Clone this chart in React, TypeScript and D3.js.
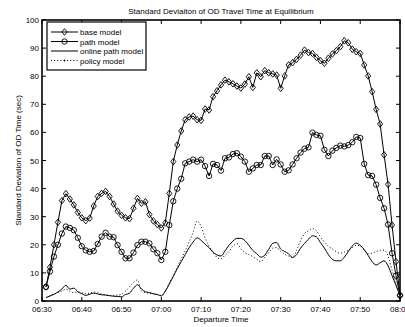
import React from "react";
import * as d3 from "d3";

// minutes after 06:30, one sample per minute
const minutes = d3.range(1, 91);

const tickLabels = ["06:30", "06:40", "06:50", "07:00", "07:10", "07:20", "07:30", "07:40", "07:50", "08:00"];
const yTicks = [0, 10, 20, 30, 40, 50, 60, 70, 80, 90, 100];

const baseModel = [
  5, 12, 20, 28, 35.7, 38.2, 36.3, 34.2, 31.5, 29.6,
  28.6, 29.5, 33.8, 37.2, 38.3, 39, 37.2, 34.5, 32, 30.5,
  29.6, 29.3, 33, 36.5, 34.8, 35.3, 30.8, 28.5, 27.2, 26,
  27.8, 38.3, 49.6, 55.5, 60.5, 64.5, 65.5, 65.8, 64.5, 64.3,
  68.3, 68, 72.7, 74.8, 76.9, 78.6, 78, 77.3, 76.5, 75.8,
  77.2, 79.8, 76, 81.2, 79.8, 82, 81.2, 80.8, 80.4, 75.7,
  80.1, 84, 84.8, 86, 87.5, 89.3, 88.4, 88.1, 86.7, 85.5,
  84.6, 86.4, 87.9, 89.1, 90.5, 92.6, 91.9, 89.6, 88.7, 88.1,
  84, 80.1, 74.5, 68.2, 63, 52, 41.5, 27, 14, 2,
];

const pathModel = [
  5, 10.5, 15.8, 20, 24, 26.5, 26, 25.2, 22.5, 19.5,
  18, 17.5, 17.8, 20.3, 22.9, 24.3, 22.9, 22.7, 19.9, 17.5,
  15.2, 15.2, 17.2, 19.9, 21.1, 21.1, 20.5, 18.4, 17, 14.6,
  17.5, 27, 35.5, 40, 43.5, 49, 49.6, 50.3, 49.6, 50.3,
  48, 44.5, 48.8, 48.4, 46.4, 50.8, 51.1, 52.3, 52.6, 51.4,
  49.6, 46, 47.2, 48.4, 48.4, 51.6, 51.6, 48.4, 50.4, 48.6,
  46, 46.5, 48.6, 50.8, 52.8, 54.2, 54.7, 59.9, 59.1, 58.8,
  53.8, 51.6, 53.5, 54.5, 55.3, 55, 55.5, 56.5, 58.4, 58,
  48.8, 44.8, 44.5, 41.4, 36.7, 33, 27.2, 17, 9, 2,
];

const onlinePathModel = [
  1.2, 1.8, 2.4, 3.2, 4.3, 5.6, 4.2, 4.6, 3.3, 2.6,
  2, 2.4, 2.8, 2.5, 2.2, 2.1, 1.9, 1.7, 1.6, 1.5,
  2.3, 2.8, 4.5, 5.8, 4.3, 3.3, 3, 2.6, 2.3, 1.8,
  3.5, 6, 8.7, 11.5, 14, 16.5, 19, 21, 22.5, 21.6,
  20.2, 19, 17.3, 16.4, 16, 17.8, 19.8, 21.3, 22.3, 22.3,
  21.5, 19.8, 18, 16.8, 15.6, 16.3, 18.4, 20.5, 20.8, 18.5,
  17.6, 16.8, 15.5, 16.5, 18.8, 20.5, 22, 23.2, 22.8, 20.8,
  18.8, 16.5, 14.8, 14.3, 14.3, 15.6, 17.6, 19.6, 20.6, 19.8,
  18.3, 16.2, 14, 12.8, 13.6, 14.3, 12.5, 9, 5.5, 2,
];

const policyModel = [
  1.2, 1.8, 2.4, 3, 3.6, 4.2, 3.4, 3, 3.2, 2.9,
  2.6, 2.8, 3.2, 2.9, 2.5, 2.2, 2, 2, 2.1, 2.4,
  3.5, 5, 6.6, 7.5, 3.6, 3, 2.7, 2.5, 2.3, 2,
  3.5, 6.5, 9, 12, 15, 17.8, 21, 24.5, 28.5, 26.5,
  22.5, 19.5, 17.5, 15.5, 15, 16.3, 17.6, 19.5, 20.4, 18.5,
  17.2, 16.5, 15.8, 14.8, 14, 15.6, 17.2, 18.8, 19, 17.6,
  16.6, 16, 15.4, 18, 21.5, 24, 25, 25.8, 25, 22.8,
  21, 19.5, 18.5, 17.5, 17, 17.4, 18, 19, 19.8, 19.6,
  18, 16.8, 17, 17.6, 18, 18.1, 16, 11, 6.5, 2,
];

const legendNames = ["base model", "path model", "online path model", "policy model"];

const W = 405;
const H = 327;
const margin = { left: 42, right: 5, top: 20, bottom: 26 };
const font = "'Liberation Sans', Arial, Helvetica, sans-serif";

function diamond(x: number, y: number, key: string | number) {
  const w = 2.6, h = 3.3;
  return (
    <path key={key} d={`M${x},${y - h}L${x + w},${y}L${x},${y + h}L${x - w},${y}Z`}
      fill="none" stroke="#000" strokeWidth={0.9} />
  );
}

export default function App() {
  const x = d3.scaleLinear().domain([0, 90]).range([margin.left, W - margin.right]);
  const y = d3.scaleLinear().domain([0, 100]).range([H - margin.bottom, margin.top]);

  const toPts = (vals: number[]) => vals.map((v, i) => [minutes[i], v] as [number, number]);
  const straight = d3.line<[number, number]>().x((d) => x(d[0])).y((d) => y(d[1]));
  const smooth = d3.line<[number, number]>().x((d) => x(d[0])).y((d) => y(d[1])).curve(d3.curveMonotoneX);

  const x0 = x(0), x1 = x(90), y0 = y(0), y1 = y(100);
  const tl = 4;

  const lx0 = 51, lx1 = 78, ltx = 80;
  const rows = [32, 41.5, 51, 60.5];

  return (
    <svg width={W} height={H} style={{ position: "absolute", left: 0, top: 0, background: "#fff" }}
      fontFamily={font} fontSize={8}>
      <rect x={0} y={0} width={W} height={H} fill="#fff" />

      {/* series */}
      <path d={smooth(toPts(policyModel)) || ""} fill="none" stroke="#000" strokeWidth={1} strokeDasharray="1,2.2" />
      <path d={smooth(toPts(onlinePathModel)) || ""} fill="none" stroke="#000" strokeWidth={1} />
      <path d={straight(toPts(pathModel)) || ""} fill="none" stroke="#000" strokeWidth={1} />
      {pathModel.map((v, i) => (
        <circle key={"p" + i} cx={x(minutes[i])} cy={y(v)} r={2.7} fill="none" stroke="#000" strokeWidth={0.9} />
      ))}
      <path d={straight(toPts(baseModel)) || ""} fill="none" stroke="#000" strokeWidth={1} />
      {baseModel.map((v, i) => diamond(x(minutes[i]), y(v), "b" + i))}

      {/* axes box */}
      <rect x={x0} y={y1} width={x1 - x0} height={y0 - y1} fill="none" stroke="#000" strokeWidth={1.6} />
      {tickLabels.map((t, i) => {
        const xx = x(i * 10);
        return (
          <g key={t}>
            <line x1={xx} x2={xx} y1={y0} y2={y0 - tl} stroke="#000" />
            <line x1={xx} x2={xx} y1={y1} y2={y1 + tl} stroke="#000" />
            <text x={xx} y={312} textAnchor="middle">{t}</text>
          </g>
        );
      })}
      {yTicks.map((v) => {
        const yy = y(v);
        return (
          <g key={v}>
            <line x1={x0} x2={x0 + tl} y1={yy} y2={yy} stroke="#000" />
            <line x1={x1} x2={x1 - tl} y1={yy} y2={yy} stroke="#000" />
            <text x={x0 - 3} y={yy + 3} textAnchor="end">{v}</text>
          </g>
        );
      })}

      <text x={(x0 + x1) / 2} y={14} textAnchor="middle">Standard Deviaiton of OD Travel Time at Equilibrium</text>
      <text x={(x0 + x1) / 2} y={321.5} textAnchor="middle">Departure Time</text>
      <text transform={`translate(21,${(y0 + y1) / 2}) rotate(-90)`} textAnchor="middle">
        Standard Deviation of OD Time (sec)
      </text>

      {/* legend */}
      <rect x={47} y={22} width={99} height={48} fill="#fff" stroke="#000" strokeWidth={1.2} />
      {legendNames.map((n, i) => {
        const ry = rows[i];
        const mid = (lx0 + lx1) / 2;
        return (
          <g key={n}>
            <line x1={lx0} x2={lx1} y1={ry} y2={ry} stroke="#000" strokeWidth={1}
              strokeDasharray={i === 3 ? "1,2.2" : undefined} />
            {i === 0 && diamond(mid, ry, "ld")}
            {i === 1 && <circle cx={mid} cy={ry} r={2.7} fill="none" stroke="#000" strokeWidth={0.9} />}
            {i === 3 && <circle cx={mid} cy={ry} r={0.9} fill="#000" />}
            <text x={ltx} y={ry + 3}>{n}</text>
          </g>
        );
      })}
    </svg>
  );
}
